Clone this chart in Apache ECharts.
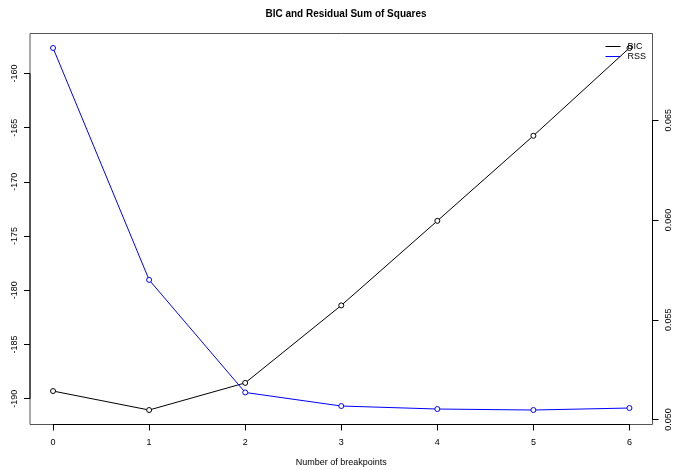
<!DOCTYPE html>
<html>
<head>
<meta charset="utf-8">
<script src="https://cdn.jsdelivr.net/npm/echarts@6/dist/echarts.min.js"></script>
<style>
html,body{margin:0;padding:0;background:#fff;}
#chart{width:674px;height:470px;}
</style>
</head>
<body>
<div id="chart"></div>
<script>
var breakpoints = [0, 1, 2, 3, 4, 5, 6];
var bicValues = [-189.3, -191.05, -188.55, -181.4, -173.6, -165.75, -157.65];
var rssValues = [0.06862, 0.0570, 0.05136, 0.05068, 0.05053, 0.05048, 0.05058];
var bicTicks = [-190, -185, -180, -175, -170, -165, -160];
var rssTicks = [0.050, 0.055, 0.060, 0.065];
var xTicks = [0, 1, 2, 3, 4, 5, 6];

function rRange(arr) {
  var mn = Math.min.apply(null, arr), mx = Math.max.apply(null, arr);
  var r = mx - mn;
  return [mn - 0.04 * r, mx + 0.04 * r];
}
var xr = rRange(breakpoints);
var yr1 = rRange(bicValues);
var yr2 = rRange(rssValues);

var FONT = "'Liberation Sans', Arial, sans-serif";
var chart = echarts.init(document.getElementById('chart'), null, {renderer: 'canvas'});

function pairs(xs, ys) { return xs.map(function (x, i) { return [x, ys[i]]; }); }

var axisSeg = {color: '#000', width: 1};
var option = {
  backgroundColor: '#fff',
  animation: false,
  title: {
    text: 'BIC and Residual Sum of Squares',
    left: 341, top: 4, textAlign: 'center',
    textStyle: {fontFamily: FONT, fontSize: 10, fontWeight: 'bold', color: '#000'}
  },
  legend: {
    orient: 'vertical', right: 23, top: 37, itemGap: 1,
    icon: 'rect', itemWidth: 15, itemHeight: 1,
    textStyle: {fontFamily: FONT, fontSize: 9, color: '#000', lineHeight: 9, padding: [0, 0, 0, 2]},
    data: [{name: 'BIC', itemStyle: {color: '#000', borderWidth: 0}}, {name: 'RSS', itemStyle: {color: '#0000ff', borderWidth: 0}}]
  },
  grid: {left: 30, right: 21.5, top: 33.5, bottom: 45.5, containLabel: false, outerBoundsMode: 'none', show: true, borderColor: '#555', borderWidth: 1, backgroundColor: 'transparent'},
  xAxis: {
    type: 'value', min: xr[0], max: xr[1],
    name: 'Number of breakpoints', nameLocation: 'middle', nameGap: 34,
    nameTextStyle: {fontFamily: FONT, fontSize: 9, color: '#000'},
    axisLine: {show: false, onZero: false},
    splitLine: {show: false},
    axisTick: {show: true, length: 6, customValues: xTicks, lineStyle: {color: '#000'}},
    axisLabel: {customValues: xTicks, margin: 14, fontFamily: FONT, fontSize: 9, color: '#000', formatter: function (v) { return String(v); }}
  },
  yAxis: [{
    type: 'value', min: yr1[0], max: yr1[1], position: 'left',
    axisLine: {show: false, onZero: false},
    splitLine: {show: false},
    axisTick: {show: true, length: 6, customValues: bicTicks, lineStyle: {color: '#000'}},
    axisLabel: {customValues: bicTicks, rotate: 90, margin: 11, fontFamily: FONT, fontSize: 9, color: '#000', formatter: function (v) { return String(v); }}
  }, {
    type: 'value', min: yr2[0], max: yr2[1], position: 'right',
    axisLine: {show: false, onZero: false},
    splitLine: {show: false},
    axisTick: {show: true, length: 6, customValues: rssTicks, lineStyle: {color: '#000'}},
    axisLabel: {customValues: rssTicks, rotate: 90, margin: 12, fontFamily: FONT, fontSize: 9, color: '#000', formatter: function (v) { return v.toFixed(3); }}
  }],
  series: [{
    name: 'BIC', type: 'line', yAxisIndex: 0,
    data: pairs(breakpoints, bicValues),
    symbol: 'circle', symbolSize: 5,
    itemStyle: {color: '#fff', borderColor: '#000', borderWidth: 1},
    lineStyle: {color: '#000', width: 1}
  }, {
    name: 'RSS', type: 'line', yAxisIndex: 1,
    data: pairs(breakpoints, rssValues),
    symbol: 'circle', symbolSize: 5,
    itemStyle: {color: '#fff', borderColor: '#0000ff', borderWidth: 1},
    lineStyle: {color: '#0000ff', width: 1}
  }, {
    type: 'line', yAxisIndex: 0, silent: true, symbol: 'none', lineStyle: axisSeg,
    data: [[xr[0], bicTicks[0]], [xr[0], bicTicks[bicTicks.length - 1]]]
  }, {
    type: 'line', yAxisIndex: 1, silent: true, symbol: 'none', lineStyle: axisSeg,
    data: [[xr[1], rssTicks[0]], [xr[1], rssTicks[rssTicks.length - 1]]]
  }, {
    type: 'line', yAxisIndex: 0, silent: true, symbol: 'none', lineStyle: axisSeg,
    data: [[xTicks[0], yr1[0]], [xTicks[xTicks.length - 1], yr1[0]]]
  }]
};
chart.setOption(option);
</script>
</body>
</html>
